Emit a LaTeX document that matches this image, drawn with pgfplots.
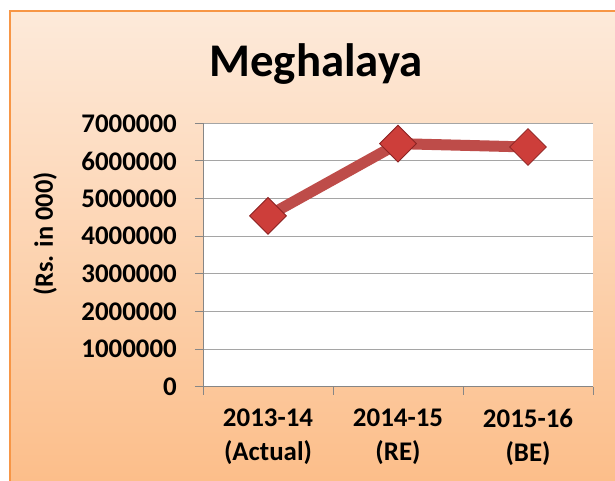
\documentclass[border=0pt]{standalone}
\usepackage{fontspec}
\setmainfont{Carlito}
\usepackage{pgfplots}
\pgfplotsset{compat=1.18}
\definecolor{bgtop}{RGB}{253,234,218}
\definecolor{bgbot}{RGB}{252,190,138}
\definecolor{framec}{RGB}{247,150,70}
\definecolor{gridc}{RGB}{165,165,165}
\definecolor{axc}{RGB}{134,134,134}
\definecolor{linec}{RGB}{190,76,73}
\definecolor{markc}{RGB}{205,62,58}
\definecolor{markd}{RGB}{140,35,35}
\begin{document}
\begin{tikzpicture}
\path[use as bounding box] (0bp,0bp) rectangle (615bp,481bp);
\shade[top color=bgtop,bottom color=bgbot] (10bp,0bp) rectangle (615bp,470bp);
\draw[framec,line width=2.5bp] (10bp,0bp) -- (10bp,470bp) -- (615bp,470bp);
\begin{axis}[
  at={(203bp,94.3bp)}, anchor=south west,
  scale only axis, width=390bp, height=263.4bp,
  xmin=-0.5, xmax=2.5, ymin=0, ymax=7000000,
  axis background/.style={fill=white},
  clip=false,
  xtick={0,1,2},
  xticklabels={{2013-14\\(Actual)},{2014-15\\(RE)},{2015-16\\(BE)}},
  minor xtick={-0.5,0.5,1.5,2.5},
  ytick={0,1000000,2000000,3000000,4000000,5000000,6000000,7000000},
  axis x line*=bottom, axis y line*=left,
  axis line style={axc, line width=1bp, -},
  tick align=outside, major tick length=8bp, minor tick length=8bp,
  tick style={axc, line width=1bp},
  major x tick style={draw=none},
  ymajorgrids, grid style={gridc, line width=1bp},
  scaled y ticks=false,
  /pgf/number format/assume math mode=true,
  yticklabel style={/pgf/number format/fixed, /pgf/number format/1000 sep={},
    font=\fontsize{27}{32}\selectfont\bfseries, inner sep=0pt, xshift=-18bp},
  xticklabel style={align=center, font=\fontsize{27}{34}\selectfont\bfseries, inner sep=0pt, yshift=-14bp},
  title={Meghalaya},
  title style={at={(axis description cs:0.29,1.155)}, anchor=base, font=\fontsize{47}{56}\selectfont\bfseries},
  ylabel={(Rs. in 000)},
  ylabel style={at={(axis description cs:-0.405,0.58)}, anchor=center, font=\fontsize{26.5}{32}\selectfont\bfseries},
]
\addplot[linec, line width=11bp, mark=square*, mark size=13bp,
  mark options={rotate=45, fill=markc, draw=markd, line width=0.8bp}]
  coordinates {(0,4540000) (1,6460000) (2,6370000)};
\end{axis}
\end{tikzpicture}
\end{document}
